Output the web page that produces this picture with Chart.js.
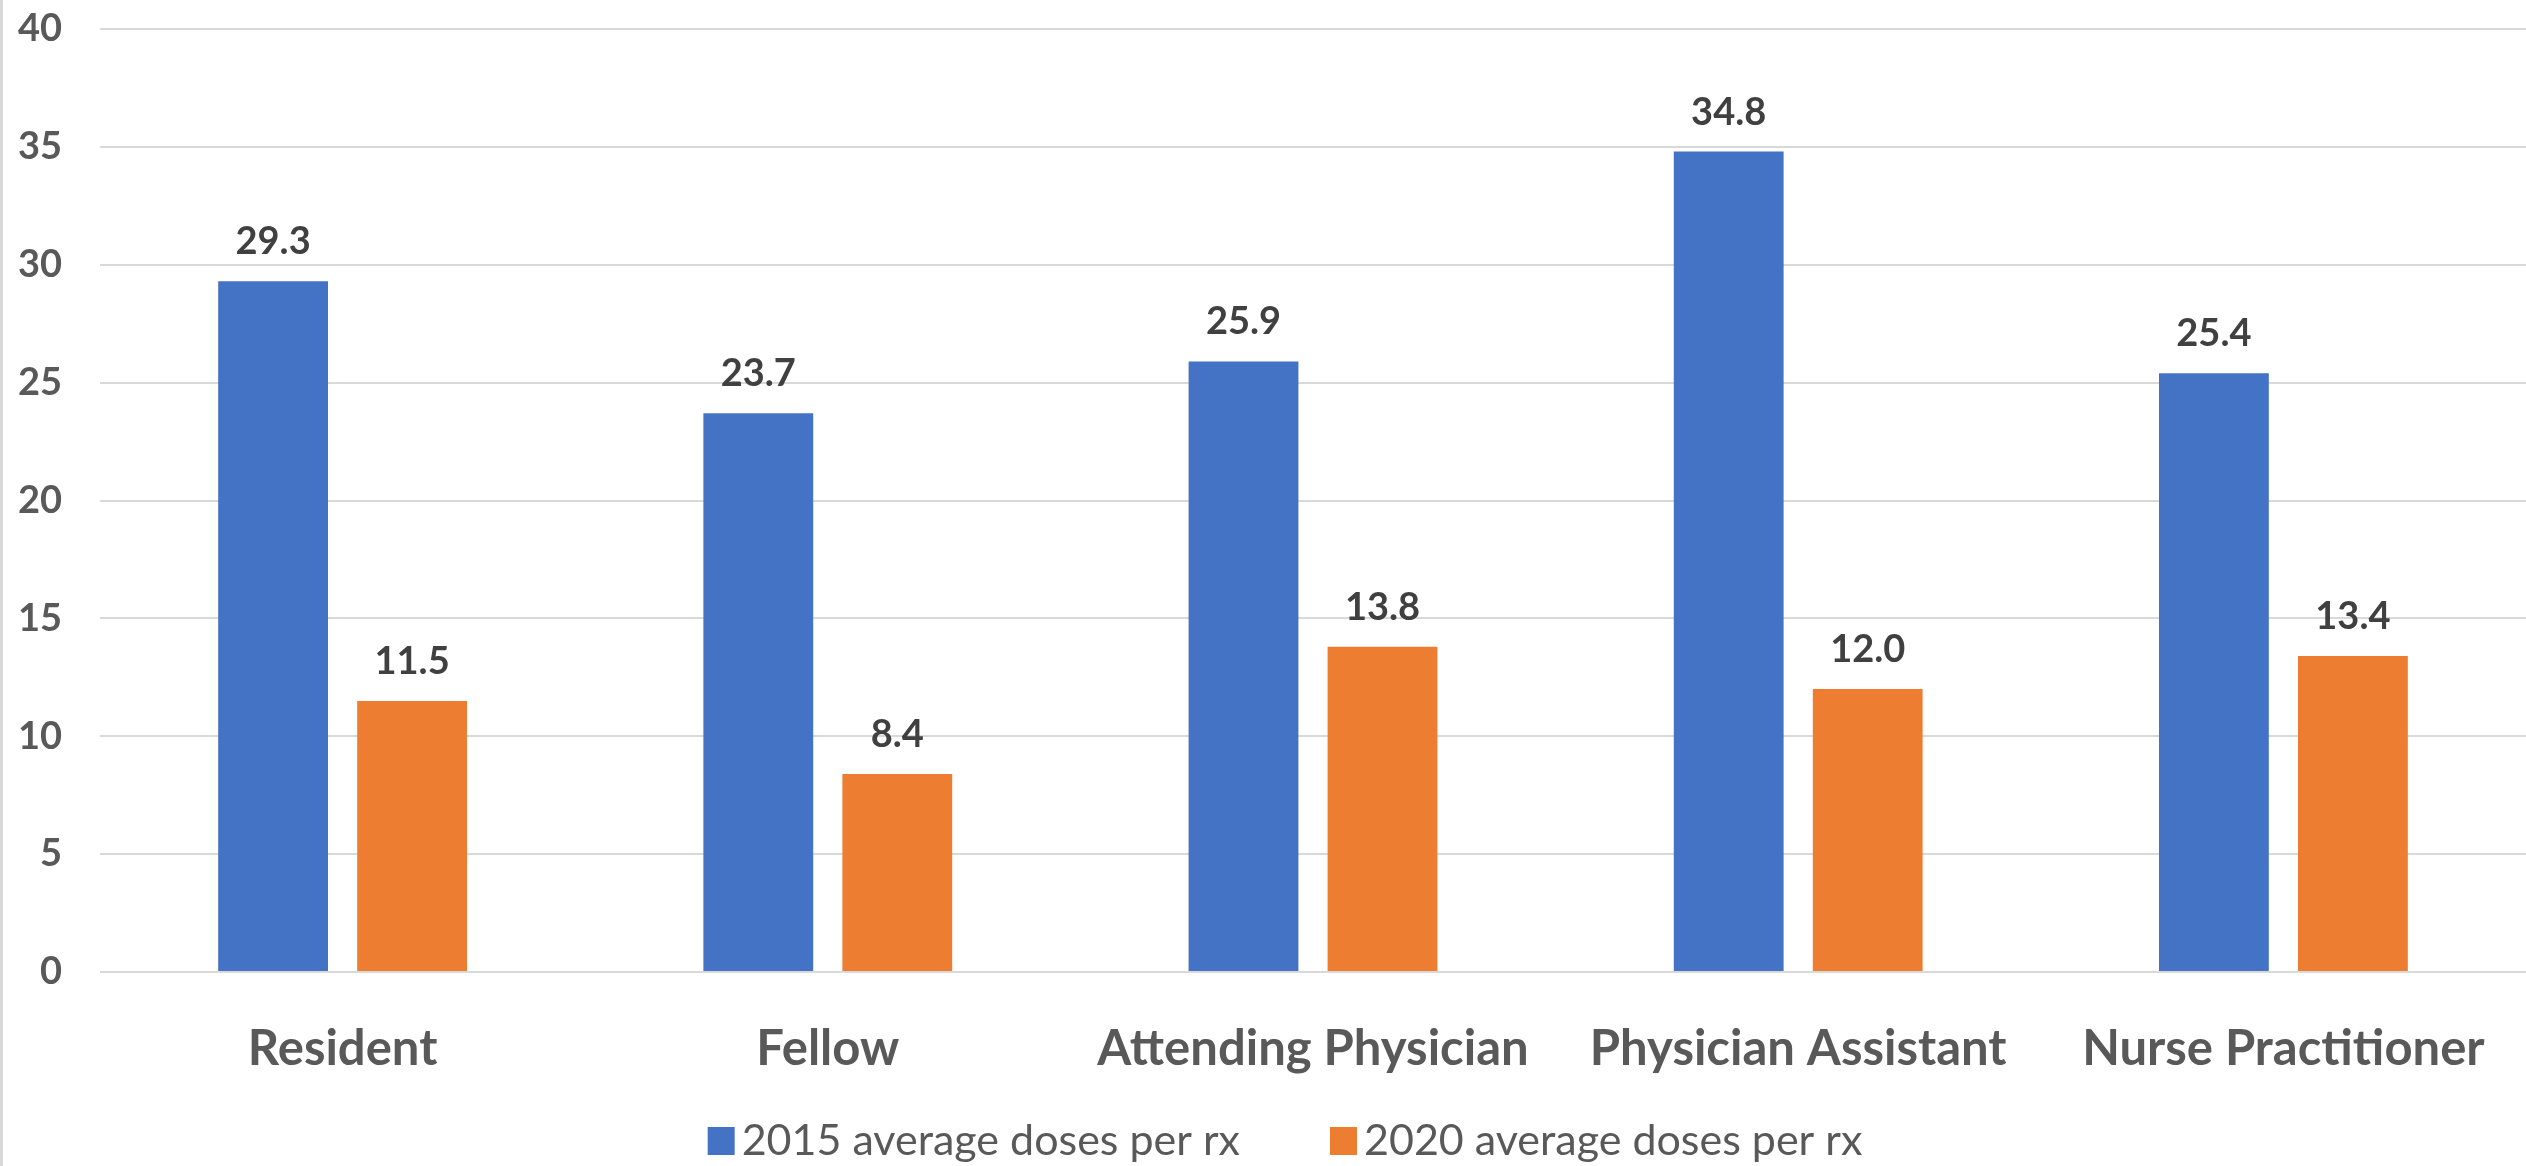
<!DOCTYPE html>
<html>
<head>
<meta charset="utf-8">
<script src="https://cdn.jsdelivr.net/npm/chart.js@4/dist/chart.umd.min.js"></script>
<style>
  html, body { margin: 0; padding: 0; background: #ffffff; }
  #wrap { position: relative; width: 2526px; height: 1166px; }
  #edge { position: absolute; left: 0; top: 0; width: 3px; height: 1166px; background: #d9d9d9; }
</style>
</head>
<body>
<div id="wrap"><canvas id="c"></canvas><div id="edge"></div></div>
<script>
// Prescriber roles and average doses per prescription
const categories = ['Resident', 'Fellow', 'Attending Physician', 'Physician Assistant', 'Nurse Practitioner'];
const doses2015 = [29.3, 23.7, 25.9, 34.8, 25.4];
const doses2020 = [11.5, 8.4, 13.8, 12.0, 13.4];
const seriesNames = ['2015 average doses per rx', '2020 average doses per rx'];
const yMin = 0, yMax = 40, yStep = 5;

const BLUE = '#4472C4';
const ORANGE = '#ED7D31';
const TEXT = '#595959';

// Value printed above each bar
const valueLabels = {
  id: 'valueLabels',
  afterDatasetsDraw(chart) {
    const ctx = chart.ctx;
    ctx.save();
    ctx.font = 'bold 38px Lato';
    ctx.fillStyle = '#404040';
    ctx.textAlign = 'center';
    ctx.textBaseline = 'alphabetic';
    chart.data.datasets.forEach((ds, i) => {
      chart.getDatasetMeta(i).data.forEach((bar, j) => {
        ctx.fillText(ds.data[j].toFixed(1), bar.x, bar.y - 27);
      });
    });
    ctx.restore();
  }
};

// Compact legend row under the axis labels
const bottomLegend = {
  id: 'bottomLegend',
  afterDraw(chart) {
    const ctx = chart.ctx;
    ctx.save();
    ctx.font = '43px Lato';
    const box = 27, gap = 7, spacing = 90;
    const items = chart.data.datasets.map(ds => ({
      text: ds.label, color: ds.backgroundColor, w: ctx.measureText(ds.label).width
    }));
    const total = items.reduce((s, it) => s + box + gap + it.w, 0) + spacing * (items.length - 1);
    let x = 1285 - total / 2;
    const baseline = 1155;
    items.forEach(it => {
      ctx.fillStyle = it.color;
      ctx.fillRect(x, baseline - 28, box, 28);
      ctx.fillStyle = TEXT;
      ctx.textAlign = 'left';
      ctx.textBaseline = 'alphabetic';
      ctx.fillText(it.text, x + box + gap, baseline);
      x += box + gap + it.w + spacing;
    });
    ctx.restore();
  }
};

function build() {
  new Chart(document.getElementById('c'), {
    type: 'bar',
    data: {
      labels: categories,
      datasets: [
        { label: seriesNames[0], data: doses2015, backgroundColor: BLUE, barPercentage: 0.79, categoryPercentage: 0.573 },
        { label: seriesNames[1], data: doses2020, backgroundColor: ORANGE, barPercentage: 0.79, categoryPercentage: 0.573 }
      ]
    },
    options: {
      responsive: true,
      maintainAspectRatio: false,
      animation: false,
      devicePixelRatio: 1,
      layout: { padding: { top: 29, right: 0, bottom: 80, left: 0 } },
      plugins: { legend: { display: false }, tooltip: { enabled: false } },
      scales: {
        x: {
          grid: { display: false },
          border: { display: false },
          ticks: {
            color: TEXT,
            font: { family: 'Lato', weight: 'bold', size: 49 },
            padding: 40, maxRotation: 0, autoSkip: false
          },
          afterFit(s) { s.height = 114; s.paddingLeft = 0; s.paddingRight = 0; }
        },
        y: {
          min: yMin, max: yMax,
          ticks: {
            stepSize: yStep,
            color: TEXT,
            font: { family: 'Lato', weight: 'bold', size: 38 },
            padding: 38
          },
          grid: { color: '#d9d9d9', lineWidth: 2, drawTicks: false },
          border: { display: false },
          afterFit(s) { s.width = 100; s.paddingTop = 0; s.paddingBottom = 0; }
        }
      }
    },
    plugins: [valueLabels, bottomLegend]
  });
}

Promise.all([
  document.fonts.load('bold 47px Lato'),
  document.fonts.load('43px Lato')
]).then(build, build);
</script>
</body>
</html>
